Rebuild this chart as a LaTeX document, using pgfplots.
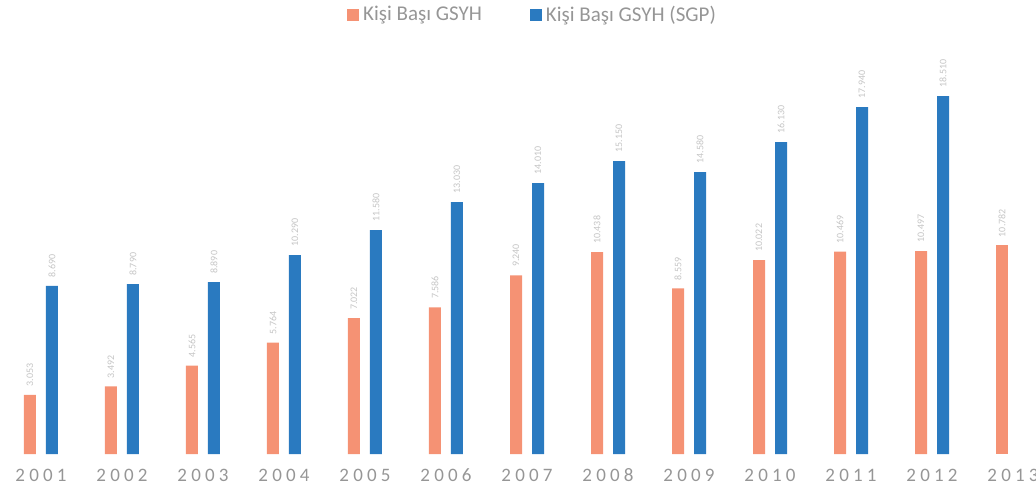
\documentclass[border=0pt]{standalone}
\usepackage{fontspec}
\setmainfont{Carlito}
\usepackage{pgfplots}
\pgfplotsset{compat=1.18}
\usepackage{pgfplotstable}

\definecolor{gsyh}{RGB}{245,146,116}
\definecolor{sgp}{RGB}{42,122,192}
\definecolor{txt}{RGB}{150,150,150}

% yil, kisi basi GSYH (USD), kisi basi GSYH SGP (USD)
\pgfplotstableread{
x  yil   gsyh   sgp
0  2001  3053   8690
1  2002  3492   8790
2  2003  4565   8890
3  2004  5764   10290
4  2005  7022   11580
5  2006  7586   13030
6  2007  9240   14010
7  2008  10438  15150
8  2009  8559   14580
9  2010  10022  16130
10 2011  10469  17940
11 2012  10497  18510
}\datatab
\pgfplotstableread{
x  yil   gsyh
12 2013  10782
}\datatabb

\begin{document}
\begin{tikzpicture}
\useasboundingbox (0,0) rectangle (518pt,250pt);
\begin{axis}[
    at={(0,23pt)}, anchor=south west,
    scale only axis,
    width=518pt, height=227pt,
    xmin=-0.506, xmax=12.284,
    ymin=0, ymax=23475,
    ybar, bar width=6pt,
    axis line style={draw=none},
    major tick length=0pt,
    ytick=\empty,
    xtick={0,...,12},
    xticklabels={2001,2002,2003,2004,2005,2006,2007,2008,2009,2010,2011,2012,2013},
    x tick label style={font=\fontsize{9.5}{10}\selectfont\addfontfeature{LetterSpace=22},
        text=txt, text height=6pt, text depth=0pt, yshift=-4pt},
    /pgf/number format/assume math mode=true,
    /pgf/number format/1000 sep={.},
    nodes near coords,
    every node near coord/.append style={font=\fontsize{5}{6}\selectfont, text=txt!55, rotate=90, anchor=west, inner sep=4pt},
    legend style={at={(0.515,0.967)}, anchor=center, draw=none, fill=none,
        font=\fontsize{10.5}{11}\selectfont, text=txt, legend columns=2,
        /tikz/every even column/.append style={column sep=22pt}},
    legend image code/.code={\fill[#1] (0pt,-3pt) rectangle (6pt,3pt);},
]
\addplot[fill=gsyh, draw=none, bar shift=-5.5pt] table[x=x, y=gsyh] {\datatab};
\addplot[fill=sgp, draw=none, bar shift=5.5pt] table[x=x, y=sgp] {\datatab};
\addplot[fill=gsyh, draw=none, bar shift=-5.5pt, forget plot] table[x=x, y=gsyh] {\datatabb};
\legend{Kişi Başı GSYH, Kişi Başı GSYH (SGP)}
\end{axis}
\end{tikzpicture}
\end{document}
